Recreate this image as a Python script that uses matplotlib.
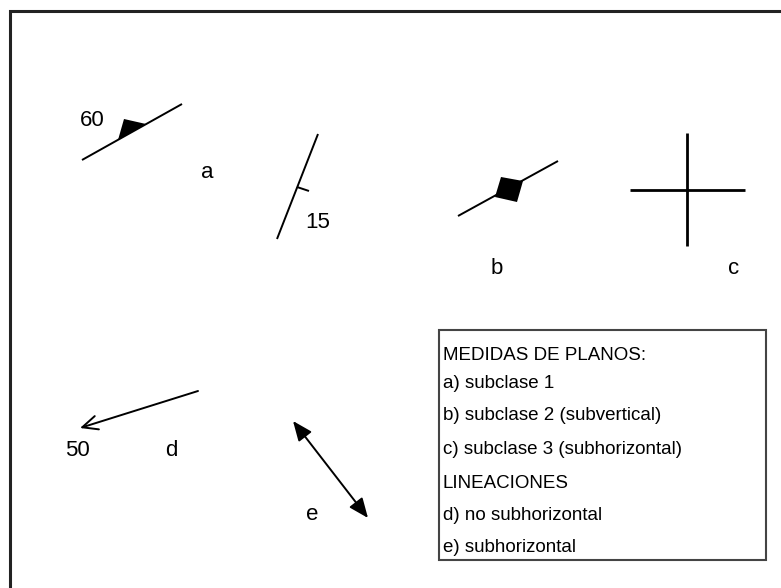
import matplotlib
matplotlib.use("Agg")
import matplotlib.pyplot as plt
from matplotlib.patches import Polygon, Rectangle, FancyArrowPatch

plt.rcParams['font.family'] = ['Liberation Sans', 'DejaVu Sans']

W, H = 781, 588

# Symbol geometry (pixel coordinates, y downward)
a1_line = [(82, 160), (182, 104)]
a1_tri = [(118, 140), (124, 119), (146, 124)]
a2_line = [(277, 239), (318, 134)]
a2_tick = [(297, 187), (309, 191)]
b_line = [(458, 216), (558, 161)]
b_square = [(495, 197), (501, 177), (523, 181), (517, 202)]
c_vert = [(687, 133), (687, 246)]
c_horiz = [(630, 190), (745, 190)]
d_arrow = [(198, 391), (80, 428)]
e_arrow = [(293, 421), (368, 518)]

labels = ["60", "a", "15", "b", "c", "50", "d", "e"]
label_pos = [(92, 120), (207, 173), (318, 223), (497, 269), (734, 269),
             (77, 450), (171, 450), (312, 514)]

legend_lines = ["MEDIDAS DE PLANOS:", "a) subclase 1", "b) subclase 2 (subvertical)",
                "c) subclase 3 (subhorizontal)", "LINEACIONES",
                "d) no subhorizontal", "e) subhorizontal"]
legend_y = [355, 383, 416, 450, 483, 516, 548]
legend_box = (439, 330, 766, 560)

fig = plt.figure(figsize=(W / 100, H / 100), dpi=100)
ax = fig.add_axes([0, 0, 1, 1])
ax.set_xlim(0, W)
ax.set_ylim(H, 0)
ax.axis('off')

# outer frame
ax.plot([10, 10, W + 5], [H + 5, 11, 11], color='#222222', lw=2.2, solid_joinstyle='miter')

def seg(p, lw=1.4):
    ax.plot([p[0][0], p[1][0]], [p[0][1], p[1][1]], color='black', lw=lw, solid_capstyle='butt')

seg(a1_line)
ax.add_patch(Polygon(a1_tri, closed=True, color='black', lw=0))
seg(a2_line)
seg(a2_tick)
seg(b_line)
ax.add_patch(Polygon(b_square, closed=True, color='black', lw=0))
seg(c_vert, lw=2.0)
seg(c_horiz, lw=2.0)

ax.add_patch(FancyArrowPatch(d_arrow[0], d_arrow[1], arrowstyle='->,head_length=11,head_width=5',
                             color='black', lw=1.4, mutation_scale=1, shrinkA=0, shrinkB=0))
ax.add_patch(FancyArrowPatch(e_arrow[0], e_arrow[1], arrowstyle='<|-|>,head_length=12,head_width=5',
                             color='black', lw=1.4, mutation_scale=1, shrinkA=0, shrinkB=0))

for t, (x, y) in zip(labels, label_pos):
    ax.text(x, y, t, fontsize=16, ha='center', va='center', color='black')

x0, y0, x1, y1 = legend_box
ax.add_patch(Rectangle((x0, y0), x1 - x0, y1 - y0, fill=False, edgecolor='#444444', lw=1.5))
for t, y in zip(legend_lines, legend_y):
    ax.text(x0 + 4, y, t, fontsize=13.5, ha='left', va='center', color='black')

fig.savefig('out.png', dpi=100)
